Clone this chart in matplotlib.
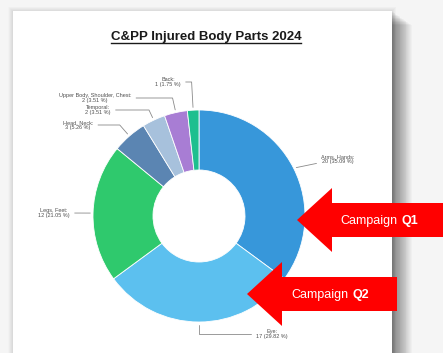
import numpy as np
import matplotlib
matplotlib.use('Agg')
import matplotlib.pyplot as plt
from matplotlib.patches import Rectangle, FancyArrow

plt.rcParams['font.family'] = ['Liberation Sans', 'DejaVu Sans']

# Data
parts = ['Arms, Hands', 'Eye', 'Legs, Feet', 'Head, Neck', 'Temporal',
         'Upper Body, Shoulder, Chest', 'Back']
counts = [20, 17, 12, 3, 2, 2, 1]
colors = ['#3797da', '#5cc0ef', '#2fc96d', '#5b85b2', '#a7c1dc', '#a87dd4', '#1dbf8f']
title = 'C&PP Injured Body Parts 2024'
campaigns = ['Q1', 'Q2']

W, H = 443, 353
fig = plt.figure(figsize=(W / 100, H / 100), dpi=100)

# background page (pixel coordinates)
ax_bg = fig.add_axes([0, 0, 1, 1], zorder=0)
ax_bg.set_xlim(0, W)
ax_bg.set_ylim(H, 0)
ax_bg.axis('off')
ax_bg.add_patch(Rectangle((0, 0), W, H, color='#f5f5f5'))
# soft shadow all round, stronger to the right
for i in range(10):
    ax_bg.add_patch(Rectangle((13 - i * 0.5, 11 - i * 0.5), 379 + i * 1.0, 400,
                              color='black', alpha=0.012, lw=0))
for i in range(24):
    ax_bg.add_patch(Rectangle((13, 11 + i * 0.6), 379 + i * 0.85, 400,
                              color='black', alpha=0.022, lw=0))
ax_bg.add_patch(Rectangle((13, 11), 379, 400, color='white', lw=0))

# donut chart, centre at (199, 216) px, radius 106 px
cx, cy, R = 199, 216, 106
ax = fig.add_axes([(cx - R) / W, (H - cy - R) / H, 2 * R / W, 2 * R / H], zorder=1)
ax.patch.set_alpha(0)
wedges, _ = ax.pie(counts, colors=colors, startangle=90, counterclock=False,
                   radius=1, wedgeprops=dict(width=0.566, edgecolor='white', linewidth=0.6))
ax.set_xlim(-1, 1)
ax.set_ylim(-1, 1)
ax.axis('off')


def px(x, y):
    return ((x - cx) / R, (cy - y) / R)


total = sum(counts)
# label centre (pixels) and connector style for each slice
label_pos = [(338, 159), (272, 334), (54, 213), (78, 125), (98, 110), (95, 98), (168, 82)]
elbow = [False, True, False, True, True, True, True]
for w, name, n, pos, el in zip(wedges, parts, counts, label_pos, elbow):
    mid = (w.theta1 + w.theta2) / 2
    tip = (np.cos(np.radians(mid)), np.sin(np.radians(mid)))
    if el:
        cs = 'angle,angleA=0,angleB=%.2f,rad=0' % mid
    else:
        cs = 'arc3'
    ax.annotate('%s:\n%d (%.2f %%)' % (name, n, 100 * n / total), xy=tip,
                xytext=px(*pos), ha='center', va='center', fontsize=4,
                color='#505050', linespacing=1.1, annotation_clip=False,
                arrowprops=dict(arrowstyle='-', color='#8a8a8a', lw=0.6,
                                connectionstyle=cs, shrinkA=1.5, shrinkB=2))

# overlay for title and arrows
ax_top = fig.add_axes([0, 0, 1, 1], zorder=2)
ax_top.patch.set_alpha(0)
ax_top.set_xlim(0, W)
ax_top.set_ylim(H, 0)
ax_top.axis('off')

t = ax_top.text(206, 37, title, ha='center', va='center', fontsize=9.5,
                fontweight='bold', color='#1a1a1a')
fig.canvas.draw()
bb = t.get_window_extent().transformed(ax_top.transData.inverted())
ax_top.plot([bb.x0, bb.x1], [43, 43], color='#1a1a1a', lw=1)

# red arrows: (tip x, tail x, centre y, text x)
arrows = [(297, 460, 220, 340), (247, 397, 294, 291)]
for (tipx, tailx, ay, tx), q in zip(arrows, campaigns):
    ax_top.add_patch(FancyArrow(tailx, ay, tipx - tailx, 0, width=34, head_width=64,
                                head_length=35, length_includes_head=True,
                                color='#ff0000', lw=0))
    c = ax_top.text(tx, ay + 1, 'Campaign', ha='left', va='center', fontsize=9,
                    color='white')
    ax_top.annotate(q, xy=(1, 0.5), xycoords=c, xytext=(3, 0), textcoords='offset points',
                    ha='left', va='center', fontsize=9, fontweight='bold', color='white')

fig.savefig('out.png', dpi=100)
